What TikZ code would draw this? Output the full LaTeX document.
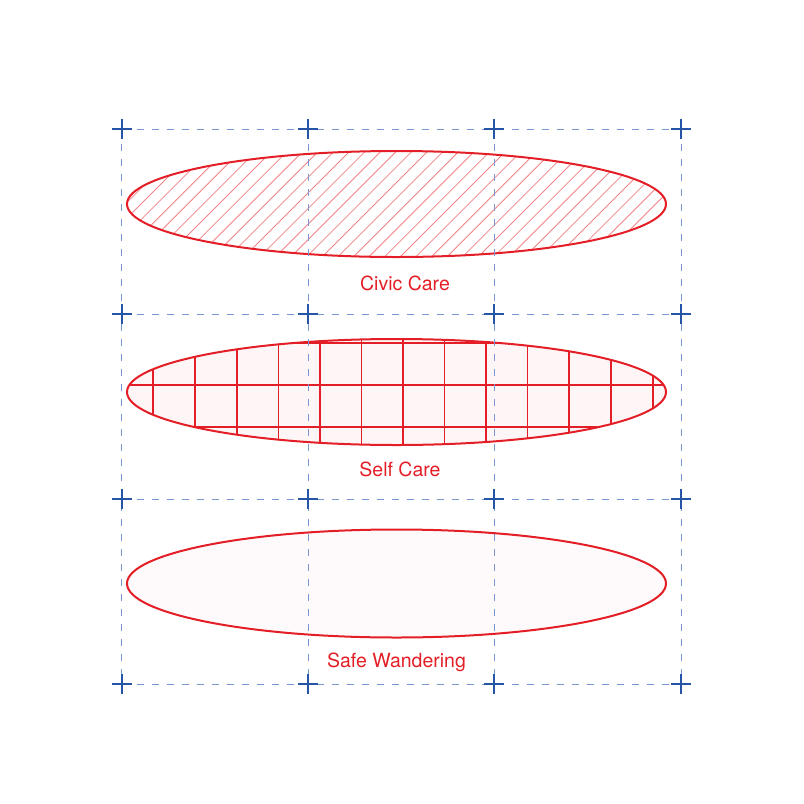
\documentclass[tikz,border=0pt]{standalone}
\usepackage{fontspec}
\setmainfont{TeX Gyre Heros}
\usepackage{tikz}

\definecolor{carered}{RGB}{228,30,38}
\definecolor{gridblue}{RGB}{120,150,210}
\definecolor{plusblue}{RGB}{38,84,166}

\tikzset{
	guide/.style={color=gridblue,line width=1,dash pattern={on 7pt off 8pt}},
	plusmark/.style={color=plusblue,line width=2},
	rim/.style={color=carered,line width=2},
	label/.style={text=carered,font=\fontsize{19.5}{22}\selectfont,inner sep=0pt,anchor=base}
}

\begin{document}
\begin{tikzpicture}[x=1pt,y=1pt,yscale=-1]
	\useasboundingbox (0,0) rectangle (804,804);
	
	%Shape: Ellipse, hatched [id:civic]
	\begin{scope}
		\clip (396.5,204) ellipse [x radius=269.5,y radius=53];
		\foreach \k in {0,...,43}
			\draw [color=carered,draw opacity=0.55,line width=0.8] (5+15.6*\k,262) -- ++(124,-124);
	\end{scope}
	\draw [rim] (396.5,204) ellipse [x radius=269.5,y radius=53];
	
	%Shape: Ellipse, gridded [id:self]
	\fill [carered!4] (396.5,392) ellipse [x radius=269.5,y radius=53];
	\begin{scope}
		\clip (396.5,392) ellipse [x radius=269.5,y radius=53];
		\foreach \k in {0,...,12}{
			\pgfmathsetmacro{\w}{ifthenelse(mod(\k,2)==0,2,1.2)}
			\draw [color=carered,line width=\w] (153.3+41.6*\k,330) -- (153.3+41.6*\k,450);
		}
		\draw [color=carered,line width=1.8] (120,343.3) -- (680,343.3);
		\draw [color=carered,line width=1.2] (120,385) -- (680,385);
		\draw [color=carered,line width=1.8] (120,426.7) -- (680,426.7);
	\end{scope}
	\draw [rim] (396.5,392) ellipse [x radius=269.5,y radius=53];
	
	%Shape: Ellipse, plain [id:wander]
	\fill [carered!2] (396.5,583.5) ellipse [x radius=269.5,y radius=54];
	\draw [rim] (396.5,583.5) ellipse [x radius=269.5,y radius=54];
	
	%Dashed guides and crosses
	\foreach \gy in {129.3,314,499,684}
		\draw [guide] (121.7,\gy) -- (681,\gy);
	\foreach \gx in {121.7,308,494.3,681}
		\draw [guide] (\gx,129.3) -- (\gx,684);
	\foreach \gx in {121.7,308,494.3,681}
		\foreach \gy in {129.3,314,499,684}
			\draw [plusmark] (\gx-10,\gy) -- (\gx+10,\gy) (\gx,\gy-10) -- (\gx,\gy+10);
	
	% Text Node
	\node [label] (civic) at (405,290.7) {Civic Care};
	% Text Node
	\node [label] (self) at (400,476.5) {Self Care};
	% Text Node
	\node [label] (wander) at (396.5,667.5) {Safe Wandering};
	
\end{tikzpicture}
\end{document}
